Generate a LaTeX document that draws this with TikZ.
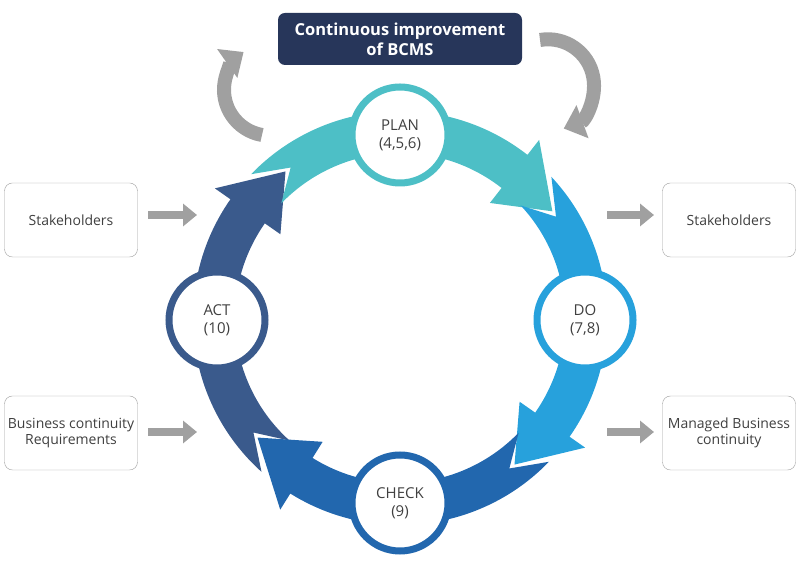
\documentclass[tikz,border=0pt]{standalone}
\usepackage{fontspec}
\setmainfont{Open Sans}
\usetikzlibrary{arrows.meta}
\definecolor{cplan}{HTML}{4DBFC6}
\definecolor{cdo}{HTML}{27A1DC}
\definecolor{ccheck}{HTML}{2267AE}
\definecolor{cact}{HTML}{3A5A8C}
\definecolor{ctitle}{HTML}{27365A}
\definecolor{cgrey}{HTML}{A0A0A0}
\definecolor{ctext}{HTML}{404040}
\newcommand{\cycarrow}[4]{% color, tail, base, tip
  \fill[#1,shift={(400,262)}] (#2:207) arc[start angle=#2,end angle=#3,radius=207] -- (#3:226) -- (#4:186) -- (#3:146) -- (#3:165)
   arc[start angle=#3,end angle=#2,radius=165] -- ({#2-10}:186) -- cycle;}
\tikzset{
 phase/.style={circle,fill=white,draw=#1,line width=7pt,minimum size=96pt,inner sep=0pt,align=center,font=\fontsize{15}{18}\selectfont,text=ctext},
 side/.style={draw=gray!75,rounded corners=8pt,fill=white,minimum width=133pt,minimum height=74pt,align=center,font=\fontsize{14}{16}\selectfont,text=ctext},
 garrow/.style={draw=cgrey,line width=8pt,-{Triangle[length=14pt,width=22pt]}},
 carrow/.style={draw=cgrey,line width=14pt,-{Triangle[length=20pt,width=34pt]}}
}
\begin{document}
\begin{tikzpicture}[x=1pt,y=1pt]
\useasboundingbox (0,0) rectangle (800,580);
% grey loop arrows
\draw[carrow] (262,445) arc[start angle=-100,end angle=-235,radius=46];
\draw[carrow] (540,540) arc[start angle=100,end angle=-70,radius=46];
% title
\node[fill=ctitle,rounded corners=7pt,minimum width=244pt,minimum height=52pt,align=center,text=white,font=\bfseries\fontsize{16.5}{20}\selectfont] (title) at (400,541) {Continuous improvement\\of BCMS};
% cycle arrows
\cycarrow{cact}{228}{145}{128}
\cycarrow{cplan}{136}{52}{35}
\cycarrow{cdo}{43}{-35}{-52}
\cycarrow{ccheck}{-44}{-122}{-140}
% phases
\node[phase=cplan] (plan) at (400,445) {PLAN\\(4,5,6)};
\node[phase=cdo] (do) at (585,260) {DO\\(7,8)};
\node[phase=ccheck] (check) at (400,77) {CHECK\\(9)};
\node[phase=cact] (act) at (217,260) {ACT\\(10)};
% side boxes
\node[side] (s1) at (71,360) {Stakeholders};
\node[side] (s2) at (71,147) {Business continuity\\Requirements};
\node[side] (s3) at (729,360) {Stakeholders};
\node[side] (s4) at (729,147) {Managed Business\\continuity};
\coordinate (a1) at (197,365); \coordinate (a2) at (197,148);
\coordinate (a3) at (654,365); \coordinate (a4) at (654,148);
\coordinate (b1) at (148,365); \coordinate (b2) at (148,148);
\coordinate (b3) at (607,365); \coordinate (b4) at (607,148);
\draw[garrow] (b1) -- (a1);
\draw[garrow] (b2) -- (a2);
\draw[garrow] (b3) -- (a3);
\draw[garrow] (b4) -- (a4);
\end{tikzpicture}
\end{document}
